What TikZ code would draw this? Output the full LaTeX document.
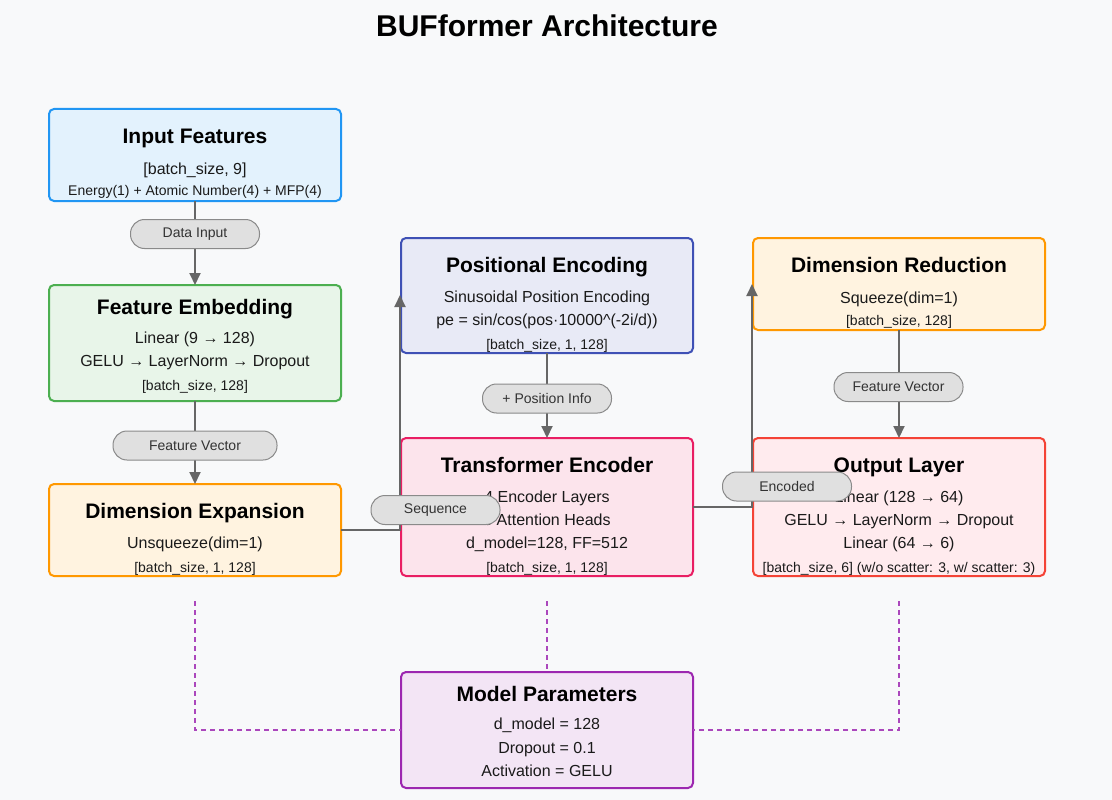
\documentclass[tikz,border=0pt]{standalone}
\usepackage{fontspec}
\setmainfont{Liberation Sans}
\usetikzlibrary{arrows.meta}
\definecolor{bg}{HTML}{F8F9FA}
\definecolor{txtc}{HTML}{1A1A1A}
\definecolor{linec}{HTML}{666666}
\definecolor{pillf}{HTML}{E0E0E0}
\definecolor{pillb}{HTML}{8A8A8A}
\definecolor{pilltxt}{HTML}{333333}
\definecolor{dashc}{HTML}{AB47BC}
\definecolor{inF}{HTML}{E3F2FD}\definecolor{inD}{HTML}{2196F3}
\definecolor{feF}{HTML}{E8F5E9}\definecolor{feD}{HTML}{4CAF50}
\definecolor{orF}{HTML}{FFF3E0}\definecolor{orD}{HTML}{FF9800}
\definecolor{peF}{HTML}{E8EAF6}\definecolor{peD}{HTML}{3F51B5}
\definecolor{teF}{HTML}{FCE4EC}\definecolor{teD}{HTML}{E91E63}
\definecolor{olF}{HTML}{FFEBEE}\definecolor{olD}{HTML}{F44336}
\definecolor{mpF}{HTML}{F3E5F5}\definecolor{mpD}{HTML}{9C27B0}
\begin{document}
\begin{tikzpicture}[x=1pt,y=-1pt,
  box/.style={line width=2pt, rounded corners=5pt, minimum width=292pt, inner sep=0pt, outer sep=0pt},
  ttl/.style={anchor=base, inner sep=0pt, font=\fontsize{21}{25}\selectfont\bfseries, text=black},
  txt/.style={anchor=base, inner sep=0pt, font=\fontsize{16}{19}\selectfont, text=txtc},
  sml/.style={anchor=base, inner sep=0pt, font=\fontsize{14}{17}\selectfont, text=txtc},
  pill/.style={draw=pillb, fill=pillf, line width=1pt, rounded corners=14pt, minimum width=129pt, minimum height=29pt, inner sep=0pt, font=\fontsize{14}{17}\selectfont, text=pilltxt},
  conn/.style={draw=linec, line width=2pt},
  arr/.style={conn, -{Triangle[length=12pt,width=11pt]}},
  dsh/.style={draw=dashc, line width=1.5pt, dash pattern=on 5pt off 4pt}]
\fill[bg] (0,0) rectangle (1112,800);
\useasboundingbox (0,0) rectangle (1112,800);

\node[anchor=base, inner sep=0pt, font=\fontsize{30}{36}\selectfont\bfseries, text=black] (title) at (547,37) {BUFformer Architecture};

% boxes
\node[box, draw=inD, fill=inF, minimum height=92pt] (in) at (195,155) {};
\node[box, draw=feD, fill=feF, minimum height=116pt] (fe) at (195,343) {};
\node[box, draw=orD, fill=orF, minimum height=92pt] (de) at (195,530) {};
\node[box, draw=peD, fill=peF, minimum height=115pt] (pe) at (547,295.5) {};
\node[box, draw=teD, fill=teF, minimum height=138pt] (te) at (547,507) {};
\node[box, draw=orD, fill=orF, minimum height=92pt] (dr) at (899,284) {};
\node[box, draw=olD, fill=olF, minimum height=138pt] (ol) at (899,507) {};
\node[box, draw=mpD, fill=mpF, minimum height=116pt] (mp) at (547,730) {};

% texts
\node[ttl] (inT) at (195,143) {Input Features};
\node[txt] (inA) at (195,174) {[batch\_size, 9]};
\node[sml] (inB) at (195,195) {Energy(1) + Atomic Number(4) + MFP(4)};

\node[ttl] (feT) at (195,314) {Feature Embedding};
\node[txt] (feA) at (195,343) {Linear (9 → 128)};
\node[txt] (feB) at (195,366) {GELU → LayerNorm → Dropout};
\node[sml] (feC) at (195,390) {[batch\_size, 128]};

\node[ttl] (deT) at (195,518) {Dimension Expansion};
\node[txt] (deA) at (195,548) {Unsqueeze(dim=1)};
\node[sml] (deB) at (195,572) {[batch\_size, 1, 128]};

\node[ttl] (peT) at (547,272) {Positional Encoding};
\node[txt] (peA) at (547,302) {Sinusoidal Position Encoding};
\node[txt] (peB) at (547,325) {pe = sin/cos(pos·10000\^{}(-2i/d))};
\node[sml] (peC) at (547,349) {[batch\_size, 1, 128]};

\node[ttl] (teT) at (547,472) {Transformer Encoder};
\node[txt] (teA) at (547,502) {4 Encoder Layers};
\node[txt] (teB) at (547,525) {8 Attention Heads};
\node[txt] (teC) at (547,548) {d\_model=128, FF=512};
\node[sml] (teD) at (547,572) {[batch\_size, 1, 128]};

\node[ttl] (drT) at (899,272) {Dimension Reduction};
\node[txt] (drA) at (899,303) {Squeeze(dim=1)};
\node[sml] (drB) at (899,325) {[batch\_size, 128]};

\node[ttl] (olT) at (899,472) {Output Layer};
\node[txt] (olA) at (899,502) {Linear (128 → 64)};
\node[txt] (olB) at (899,525) {GELU → LayerNorm → Dropout};
\node[txt] (olC) at (899,548) {Linear (64 → 6)};
\node[sml] (olD) at (899,572) {[batch\_size, 6] (w/o scatter: 3, w/ scatter: 3)};

\node[ttl] (mpT) at (547,701) {Model Parameters};
\node[txt] (mpA) at (547,729) {d\_model = 128};
\node[txt] (mpB) at (547,753) {Dropout = 0.1};
\node[txt] (mpC) at (547,776) {Activation = GELU};

% connectors
\draw[arr] (in.south) -- (fe.north);
\draw[arr] (fe.south) -- (de.north);
\draw[arr] (pe.south) -- (te.north);
\draw[arr] (dr.south) -- (ol.north);
\coordinate (seqEnd) at (400,295);
\coordinate (encEnd) at (752,284);
\draw[arr] (de.east) -| (seqEnd);
\draw[arr] (te.east) -| (encEnd);

% dashed links
\coordinate (d1) at (195,601);
\coordinate (d2) at (547,601);
\coordinate (d3) at (899,601);
\draw[dsh] (d1) |- (mp.west);
\draw[dsh] (d2) -- (mp.north);
\draw[dsh] (d3) |- (mp.east);

% pills
\node[pill] (pDI) at (195,234) {Data Input};
\node[pill, minimum width=164pt] (pFV1) at (195,445.5) {Feature Vector};
\node[pill] (pPI) at (547,398.5) {+ Position Info};
\node[pill] (pFV2) at (898.5,387) {Feature Vector};
\node[pill] (pSQ) at (435.5,510) {Sequence};
\node[pill] (pEN) at (787,486.5) {Encoded};
\end{tikzpicture}
\end{document}
